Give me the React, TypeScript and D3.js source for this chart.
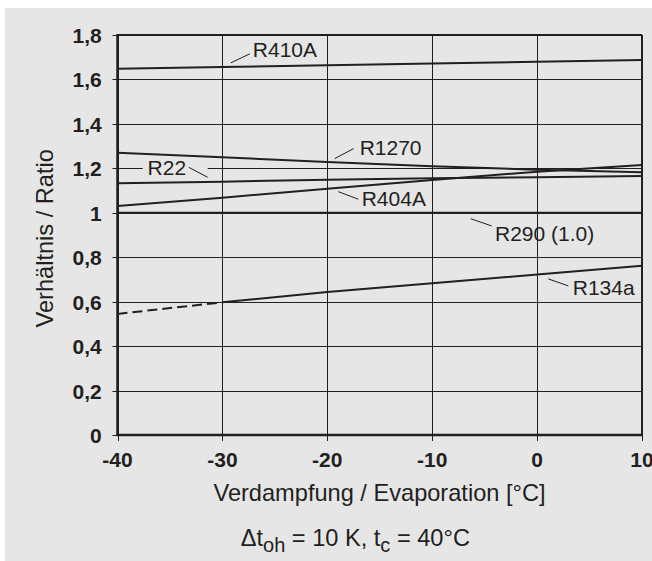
import React from "react";
import * as d3 from "d3";

const temps = [-40, -30, -20, -10, 0, 10];
const r410a = [1.648, 1.656, 1.664, 1.672, 1.68, 1.688];
const r1270 = [1.27, 1.25, 1.229, 1.209, 1.194, 1.182];
const r22 = [1.133, 1.14, 1.149, 1.155, 1.16, 1.165];
const r404a = [1.03, 1.068, 1.108, 1.148, 1.185, 1.215];
const r290 = [1.0, 1.0, 1.0, 1.0, 1.0, 1.0];
const r134aDashed = [0.545, 0.597];
const r134a = [0.597, 0.643, 0.683, 0.722, 0.762];

const xTicks = [-40, -30, -20, -10, 0, 10];
const yTicks = [0, 0.2, 0.4, 0.6, 0.8, 1.0, 1.2, 1.4, 1.6, 1.8];
const yTickLabels = ["0", "0,2", "0,4", "0,6", "0,8", "1", "1,2", "1,4", "1,6", "1,8"];

const labelNames = ["R410A", "R22", "R1270", "R404A", "R290 (1.0)", "R134a"];
const labelSeries = [r410a, r22, r1270, r404a, r290, [0.545, 0.597, 0.643, 0.683, 0.722, 0.762]];
const labelAtX = [-29.2, -31.4, -19.3, -18.95, -6.33, 1.07];

const W = 652;
const H = 561;
const ink = "#231f20";
const bg = "#e6e6e6";

export default function App() {
  const x = d3.scaleLinear().domain([-40, 10]).range([117.5, 642]);
  const y = d3.scaleLinear().domain([0, 1.8]).range([435, 35]);
  const line = (xs: number[], ys: number[]) =>
    d3
      .line<number>()
      .x((_, i) => x(xs[i]))
      .y((v) => y(v))(ys) as string;

  const interp = (vals: number[], t: number) => {
    const f = d3.scaleLinear().domain(temps).range(vals);
    return f(t);
  };

  const series = [r410a, r1270, r22, r404a, r290];

  // label geometry: leader from (px+a, py+b) to (px+c, py+d), text at (px+tx, py+ty)
  const lab = labelNames.map((name, i) => {
    const px = x(labelAtX[i]);
    const py = y(interp(labelSeries[i], labelAtX[i]));
    return { name, px, py };
  });

  const font = "'Liberation Sans', Arial, Helvetica, sans-serif";

  return (
    <svg
      width={W}
      height={H}
      style={{ position: "absolute", left: 0, top: 0, background: "#fff" }}
      fontFamily={font}
    >
      <rect x={5} y={8} width={W - 5} height={H - 8} fill={bg} />

      {/* gridlines */}
      {yTicks.map((t) => (
        <line key={"gy" + t} x1={x(-40)} x2={x(10)} y1={Math.round(y(t)) + 0.5} y2={Math.round(y(t)) + 0.5} stroke={ink} strokeWidth={1} />
      ))}
      {xTicks.map((t) => (
        <line key={"gx" + t} x1={Math.round(x(t)) + 0.5} x2={Math.round(x(t)) + 0.5} y1={y(1.8)} y2={y(0)} stroke={ink} strokeWidth={1} />
      ))}

      {/* R22 label background interrupting gridline */}
      <rect x={lab[1].px - 65} y={lab[1].py - 20} width={65} height={14} fill={bg} />

      {/* frame */}
      <line x1={x(-40)} x2={x(10)} y1={y(1.8)} y2={y(1.8)} stroke={ink} strokeWidth={2} />
      <line x1={x(10)} x2={x(10)} y1={y(1.8)} y2={y(0)} stroke={ink} strokeWidth={2} />
      <line x1={x(-40)} x2={x(-40)} y1={y(1.8) - 1} y2={y(0) + 1} stroke={ink} strokeWidth={2.5} />
      <line x1={x(-40) - 1} x2={x(10) + 1} y1={y(0)} y2={y(0)} stroke={ink} strokeWidth={2.5} />

      {/* ticks */}
      {yTicks.map((t) => (
        <line key={"ty" + t} x1={x(-40) - 5} x2={x(-40)} y1={Math.round(y(t)) + 0.5} y2={Math.round(y(t)) + 0.5} stroke={ink} strokeWidth={1} />
      ))}
      {xTicks.map((t) => (
        <line key={"tx" + t} x1={Math.round(x(t)) + 0.5} x2={Math.round(x(t)) + 0.5} y1={y(0)} y2={y(0) + 6} stroke={ink} strokeWidth={1} />
      ))}

      {/* tick labels */}
      {yTicks.map((t, i) => (
        <text key={"ly" + t} x={101.7} y={y(t) + 8} textAnchor="end" fontSize={21} fontWeight="bold" fill={ink}>
          {yTickLabels[i]}
        </text>
      ))}
      {xTicks.map((t) => (
        <text key={"lx" + t} x={x(t)} y={467} textAnchor="middle" fontSize={21} fontWeight="bold" fill={ink}>
          {String(t)}
        </text>
      ))}

      {/* data lines */}
      {series.map((s, i) => (
        <path key={"s" + i} d={line(temps, s)} fill="none" stroke={ink} strokeWidth={2} />
      ))}
      <path d={line(temps.slice(0, 2), r134aDashed)} fill="none" stroke={ink} strokeWidth={2} strokeDasharray="10,5" />
      <path d={line(temps.slice(1), r134a)} fill="none" stroke={ink} strokeWidth={2} />

      {/* labels */}
      {/* R410A */}
      <line x1={lab[0].px} y1={lab[0].py - 4} x2={lab[0].px + 19} y2={lab[0].py - 13} stroke={ink} strokeWidth={1} />
      <text x={lab[0].px + 22} y={lab[0].py - 10} fontSize={21} fill={ink}>{lab[0].name}</text>
      {/* R22 */}
      <line x1={lab[1].px - 19} y1={lab[1].py - 14.6} x2={lab[1].px} y2={lab[1].py - 4.6} stroke={ink} strokeWidth={1} />
      <text x={lab[1].px - 21.6} y={lab[1].py - 7} textAnchor="end" fontSize={21} fill={ink}>{lab[1].name}</text>
      {/* R1270 */}
      <line x1={lab[2].px} y1={lab[2].py - 3.6} x2={lab[2].px + 19} y2={lab[2].py - 13.6} stroke={ink} strokeWidth={1} />
      <text x={lab[2].px + 25} y={lab[2].py - 7} fontSize={21} fill={ink}>{lab[2].name}</text>
      {/* R404A */}
      <line x1={lab[3].px} y1={lab[3].py + 3.8} x2={lab[3].px + 20} y2={lab[3].py + 11.4} stroke={ink} strokeWidth={1} />
      <text x={lab[3].px + 23.4} y={lab[3].py + 18} fontSize={21} fill={ink}>{lab[3].name}</text>
      {/* R290 */}
      <line x1={lab[4].px} y1={lab[4].py + 5.9} x2={lab[4].px + 21} y2={lab[4].py + 13.2} stroke={ink} strokeWidth={1} />
      <text x={lab[4].px + 24.3} y={lab[4].py + 28} fontSize={21} fill={ink}>{lab[4].name}</text>
      {/* R134a */}
      <line x1={lab[5].px} y1={lab[5].py + 5.3} x2={lab[5].px + 20} y2={lab[5].py + 12.3} stroke={ink} strokeWidth={1} />
      <text x={lab[5].px + 24.4} y={lab[5].py + 21.3} fontSize={21} fill={ink}>{lab[5].name}</text>

      {/* axis titles */}
      <text x={379.5} y={501} textAnchor="middle" fontSize={23.6} fill={ink}>
        Verdampfung / Evaporation [°C]
      </text>
      <text transform={`translate(53,238.3) rotate(-90)`} textAnchor="middle" fontSize={23.6} fill={ink}>
        Verhältnis / Ratio
      </text>
      <text x={240.7} y={546} fontSize={23.6} fill={ink}>
        Δt<tspan fontSize={20} dy={6}>oh</tspan>
        <tspan dy={-6}> = 10 K, t</tspan>
        <tspan fontSize={20} dy={6}>c</tspan>
        <tspan dy={-6}> = 40°C</tspan>
      </text>
    </svg>
  );
}
